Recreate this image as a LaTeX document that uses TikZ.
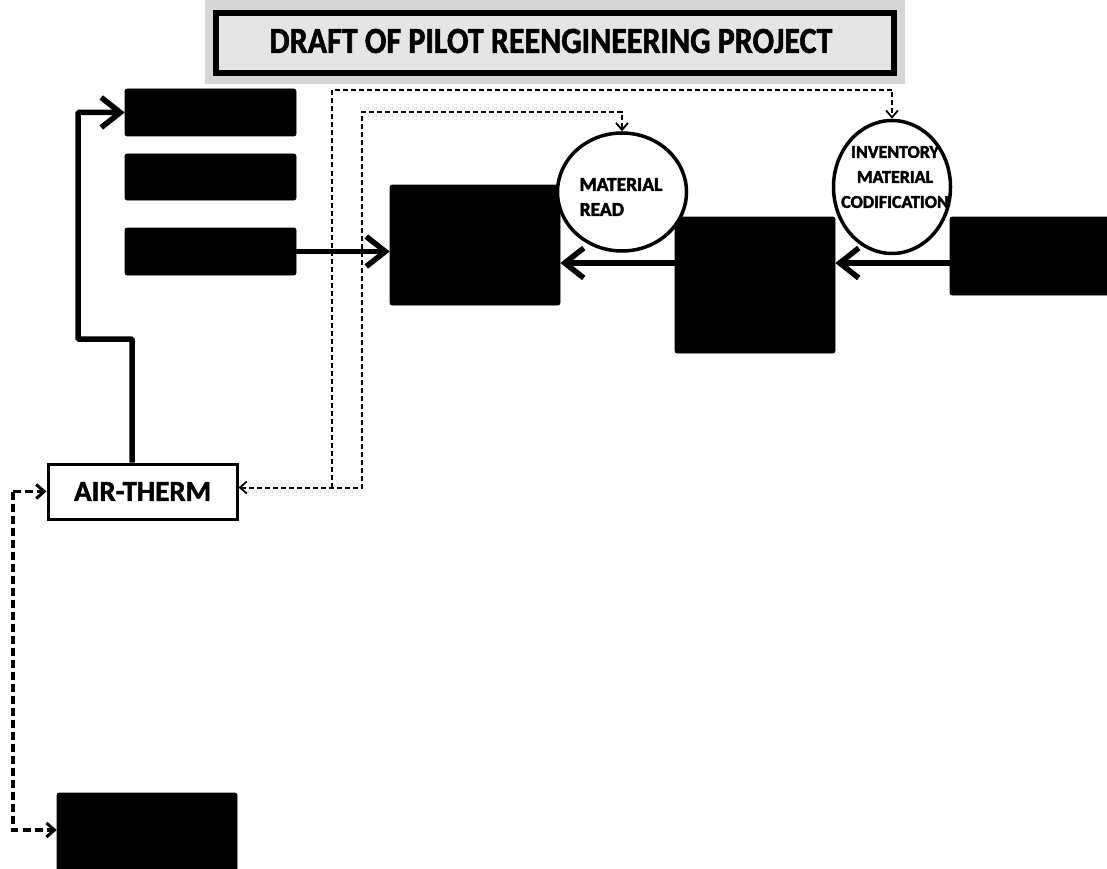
\documentclass[tikz,border=0pt]{standalone}
\usepackage{fontspec}
\usepackage{graphicx}
\setmainfont{Carlito}
\newfontfamily\heavy{Carlito Bold}[FakeBold=1.6]
\newfontfamily\heavier{Carlito Bold}[FakeBold=2.4]
\usetikzlibrary{arrows.meta,shapes.geometric}
\tikzset{
  blk/.style={draw=black,fill=black,rounded corners=2pt,line width=0.6pt,inner sep=0pt},
  thk/.style={line width=5.5pt,-{Straight Barb[length=19pt,width=30pt]}},
  dsh/.style={line width=2pt,dash pattern=on 5pt off 3pt},
  ldsh/.style={line width=3.5pt,dash pattern=on 8pt off 4pt},
  circ/.style={draw=black,line width=3.5pt,fill=white,ellipse,inner sep=0pt},
  ctext/.style={align=center,inner sep=0pt},
}
\begin{document}
\begin{tikzpicture}[x=1pt,y=-1pt]
\useasboundingbox (0,0) rectangle (1107,869);
\clip (0,0) rectangle (1107,869);
% title
\fill[gray!32] (205,0) rectangle (905,84);
\draw[line width=6.5pt,fill=gray!20] (216,13) rectangle (894,73);
\node[font=\heavy\fontsize{32}{36}\selectfont,inner sep=0pt] (title) at (551,41) {\scalebox{1}[1.15]{DRAFT OF PILOT REENGINEERING PROJECT}};
% black boxes
\node[blk,minimum width=171pt,minimum height=47pt] (b1) at (210.5,112.5) {};
\node[blk,minimum width=171pt,minimum height=46pt] (b2) at (210.5,177) {};
\node[blk,minimum width=171pt,minimum height=47pt] (b3) at (210.5,251.5) {};
\node[blk,minimum width=170pt,minimum height=120pt] (big) at (475,245) {};
\node[blk,minimum width=160pt,minimum height=136pt] (mid) at (755,285) {};
\node[blk,minimum width=170pt,minimum height=78pt] (rb) at (1035,256) {};
\node[blk,minimum width=180pt,minimum height=90pt] (bot) at (147,838) {};
% circles
\node[circ,minimum width=129pt,minimum height=118pt] (mat) at (622,192) {};
\node[ctext,align=left,font=\heavier\fontsize{19.5}{25}\selectfont] (matt) at (621,197) {MATERIAL\\READ};
\node[circ,minimum width=117pt,minimum height=133pt] (inv) at (892,187) {};
\node[ctext,font=\heavier\fontsize{18}{25}\selectfont] (invt) at (895,177) {INVENTORY\\MATERIAL\\CODIFICATION};
% air-therm
\node[draw=black,line width=3pt,fill=white,minimum width=189pt,minimum height=55pt,inner sep=0pt,font=\heavy\fontsize{29}{32}\selectfont] (air) at (142.5,491.5) {AIR-THERM};
% solid connectors
\draw[thk] (b3.east) -- (b3.east -| big.west);
\draw[thk] ([yshift=22pt]mid.west) -- ([yshift=-18pt]big.east);
\draw[thk] ([yshift=-7pt]rb.west) -- ([yshift=22pt]mid.east);
\draw[thk,rounded corners=1pt] ([xshift=-10.5pt]air.north) |- (78,339) |- (b1.west);
% dashed connectors
\coordinate (j) at (332,487.5);
\coordinate (ls) at (13,491.5);
\draw[dsh,{Straight Barb[length=7pt,width=12pt,line width=1.8pt]}-{Straight Barb[length=7pt,width=12pt,line width=1.8pt]}] ([yshift=4pt]air.east) -| (362,112) -| (mat.north);
\draw[dsh,-{Straight Barb[length=7pt,width=12pt,line width=1.8pt]}] (j) |- (892,90) -- (inv.north);
\draw[ldsh,-{Straight Barb[length=8pt,width=14pt,line width=3pt]}] (ls) -- (air.west);
\draw[ldsh,-{Straight Barb[length=8pt,width=14pt,line width=3pt]}] (ls) |- ([yshift=8pt]bot.west);
\end{tikzpicture}
\end{document}
